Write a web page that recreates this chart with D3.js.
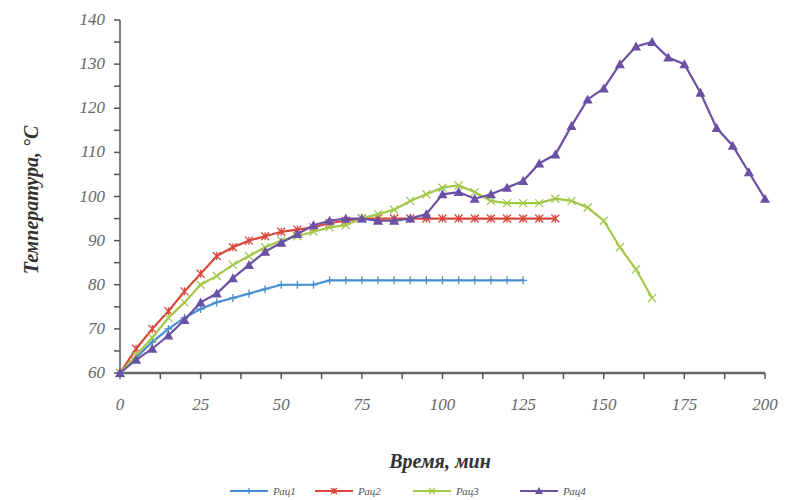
<!DOCTYPE html>
<html>
<head>
<meta charset="utf-8">
<script src="https://cdn.jsdelivr.net/npm/d3@7/dist/d3.min.js"></script>
<style>
  body { margin: 0; background: #fff; }
  text { font-family: "Liberation Serif", "DejaVu Serif", serif; }
</style>
</head>
<body>
<svg id="chart"></svg>
<script>
const times = d3.range(0, 201, 5)
const rac1 = [60, 63.5, 67, 70, 72.5, 74.5, 76, 77, 78, 79, 80, 80, 80, 81, 81, 81, 81, 81, 81, 81, 81, 81, 81, 81, 81, 81]
const rac2 = [60, 65.5, 70, 74, 78.5, 82.5, 86.5, 88.5, 90, 91, 92, 92.5, 93, 94, 94.5, 95, 95, 95, 95, 95, 95, 95, 95, 95, 95, 95, 95, 95]
const rac3 = [60, 64, 68, 72.5, 76, 80, 82, 84.5, 86.5, 88.5, 90, 91, 92, 93, 93.5, 95, 96, 97, 99, 100.5, 102, 102.5, 101, 99, 98.5, 98.5, 98.5, 99.5, 99, 97.5, 94.5, 88.5, 83.5, 77]
const rac4 = [60, 63, 65.5, 68.5, 72, 76, 78, 81.5, 84.5, 87.5, 89.5, 91.5, 93.5, 94.5, 95, 95, 94.5, 94.5, 95, 96, 100.5, 101, 99.5, 100.5, 102, 103.5, 107.5, 109.5, 116, 122, 124.5, 130, 134, 135, 131.5, 130, 123.5, 115.5, 111.5, 105.5, 99.5]
const names = ['Рац1', 'Рац2', 'Рац3', 'Рац4']
const xTicks = [0, 25, 50, 75, 100, 125, 150, 175, 200]
const yTicks = [60, 70, 80, 90, 100, 110, 120, 130, 140]

const series = [
    { name: names[0], values: rac1, color: '#4a8fd0', marker: 'plus' },
    { name: names[1], values: rac2, color: '#d8473c', marker: 'star' },
    { name: names[2], values: rac3, color: '#a2c84a', marker: 'cross' },
    { name: names[3], values: rac4, color: '#6a51a3', marker: 'tri' }
]

const svg = d3.select('#chart').attr('width', 787).attr('height', 500)
const x = d3.scaleLinear().domain([0, 200]).range([120, 765])
const y = d3.scaleLinear().domain([60, 140]).range([373, 20])

// y axis
svg.append('line').attr('x1', 120).attr('x2', 120).attr('y1', y(140)).attr('y2', y(60))
    .attr('stroke', '#555').attr('stroke-width', 1.5)
svg.selectAll('.ytick').data(d3.range(60, 141, 5)).enter().append('line')
    .attr('x1', 114).attr('x2', 120).attr('y1', d => y(d)).attr('y2', d => y(d))
    .attr('stroke', '#555').attr('stroke-width', 1.5)
svg.selectAll('.ylab').data(yTicks).enter().append('text')
    .attr('x', 105).attr('y', d => y(d) + 5).attr('text-anchor', 'end')
    .attr('font-size', 17).attr('font-style', 'italic').attr('fill', '#666')
    .text(d => d)

// x axis
svg.append('line').attr('x1', x(0)).attr('x2', x(200)).attr('y1', 373).attr('y2', 373)
    .attr('stroke', '#666').attr('stroke-width', 2.5)
svg.selectAll('.xtick').data(d3.range(0, 201, 12.5)).enter().append('line')
    .attr('x1', d => x(d)).attr('x2', d => x(d)).attr('y1', 373).attr('y2', 379)
    .attr('stroke', '#555').attr('stroke-width', 1.5)
svg.selectAll('.xlab').data(xTicks).enter().append('text')
    .attr('x', d => x(d)).attr('y', 410).attr('text-anchor', 'middle')
    .attr('font-size', 17).attr('font-style', 'italic').attr('fill', '#666')
    .text(d => d)

svg.append('text').attr('x', 440).attr('y', 468).attr('text-anchor', 'middle')
    .attr('font-size', 20).attr('font-style', 'italic').attr('font-weight', 'bold').attr('fill', '#333')
    .text('Время, мин')
svg.append('text').attr('transform', 'translate(38,200) rotate(-90)').attr('text-anchor', 'middle')
    .attr('font-size', 20).attr('font-style', 'italic').attr('font-weight', 'bold').attr('fill', '#333')
    .text('Температура, °C')

const drawMarker = (g, type, color, s) => {
    if (type === 'plus') {
        g.append('path').attr('d', `M${-s},0H${s}M0,${-s}V${s}`).attr('stroke', color).attr('stroke-width', 1.3)
    } else if (type === 'cross') {
        g.append('path').attr('d', `M${-s},${-s}L${s},${s}M${-s},${s}L${s},${-s}`).attr('stroke', color).attr('stroke-width', 1.3)
    } else if (type === 'star') {
        g.append('path').attr('d', `M${-s},${-s}L${s},${s}M${-s},${s}L${s},${-s}M0,${-s}V${s}`).attr('stroke', color).attr('stroke-width', 1.3)
    } else {
        g.append('path').attr('d', `M0,${-s - 1}L${s + 1},${s}L${-s - 1},${s}Z`).attr('fill', color)
    }
}

const line = d3.line().x((d, i) => x(times[i])).y(d => y(d))

series.forEach(s => {
    svg.append('path').datum(s.values).attr('d', line)
        .attr('fill', 'none').attr('stroke', s.color).attr('stroke-width', 2.2)
    s.values.forEach((v, i) => {
        const g = svg.append('g').attr('transform', `translate(${x(times[i])},${y(v)})`)
        drawMarker(g, s.marker, s.color, 4)
    })
})

// legend
const legX = [230, 315, 413, 520]
series.forEach((s, i) => {
    const g = svg.append('g').attr('transform', `translate(${legX[i]},491)`)
    g.append('line').attr('x1', 0).attr('x2', 38).attr('stroke', s.color).attr('stroke-width', 2)
    const m = g.append('g').attr('transform', 'translate(19,0)')
    drawMarker(m, s.marker, s.color, 3)
    g.append('text').attr('x', 43).attr('y', 4).attr('font-size', 11).attr('font-style', 'italic')
        .attr('fill', '#555').text(s.name)
})
</script>
</body>
</html>
